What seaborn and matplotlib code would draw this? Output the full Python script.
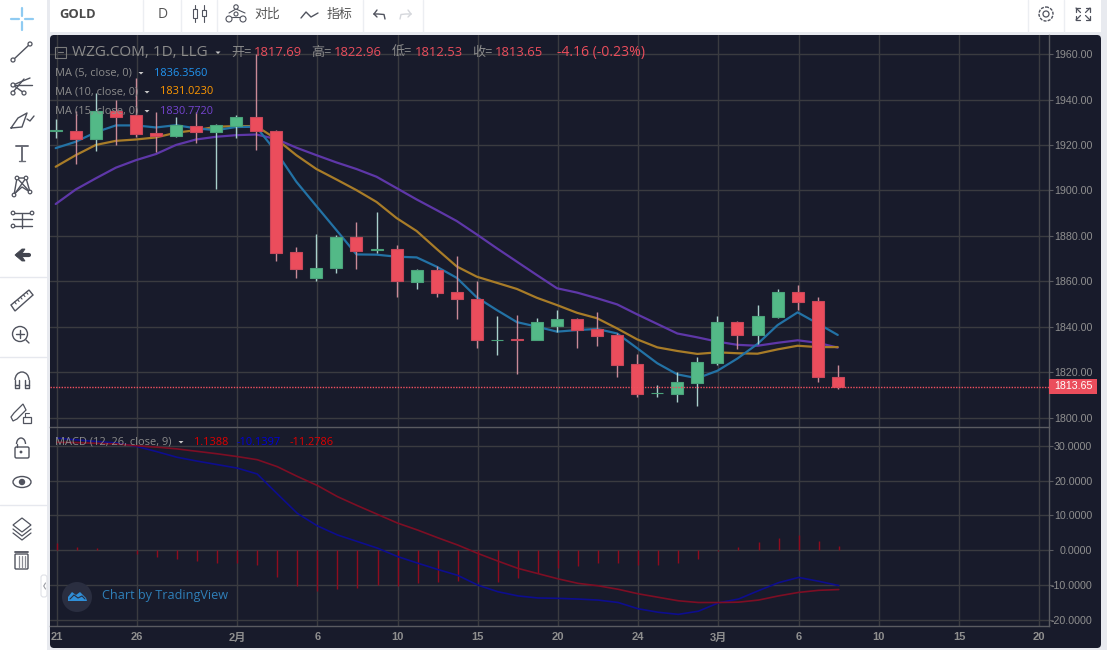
import numpy as np
import pandas as pd
import seaborn as sns
import matplotlib
matplotlib.use("Agg")
import matplotlib.pyplot as plt
from matplotlib.patches import FancyBboxPatch, Rectangle, Circle, Polygon, Arc, Ellipse

# ---------- data ----------
opens = [1926.3,1926.2,1922.7,1934.8,1933.2,1925.1,1923.9,1928.3,1925.5,1928.3,1932.1,1926.2,1873.0,1861.5,1865.7,1879.4,1873.6,1874.0,1859.5,1865.0,
         1855.1,1852.3,1834.0,1834.5,1834.3,1840.4,1843.2,1838.8,1836.3,1823.6,1810.6,1810.3,1815.2,1823.9,1842.0,1836.3,1844.2,1855.2,1851.2,1817.69]
highs = [1931.4,1935.0,1942.8,1940.0,1949.3,1934.6,1932.1,1934.6,1929.2,1933.2,1960.0,1926.5,1875.0,1881.0,1880.2,1886.2,1890.3,1876.0,1865.4,1866.8,
         1871.0,1860.2,1844.8,1845.2,1843.8,1847.3,1844.0,1846.3,1837.0,1828.0,1814.3,1820.0,1826.6,1844.5,1842.5,1849.5,1856.6,1858.3,1852.96,1822.96]
lows = [1923.2,1911.6,1917.3,1920.0,1923.5,1916.7,1923.7,1921.0,1900.7,1923.2,1917.6,1869.0,1861.5,1860.2,1863.8,1865.2,1872.3,1852.9,1856.6,1853.2,
        1843.5,1830.7,1827.6,1819.0,1834.3,1837.5,1830.6,1831.5,1817.7,1809.0,1809.0,1807.0,1805.0,1823.2,1830.0,1832.4,1844.0,1847.3,1815.8,1812.53]
closes = [1926.5,1922.7,1934.8,1932.4,1924.8,1923.9,1928.7,1925.5,1928.7,1932.1,1926.1,1872.5,1865.2,1866.0,1879.6,1873.4,1874.0,1860.1,1865.0,1855.0,
          1852.0,1834.0,1834.3,1834.3,1841.9,1843.2,1838.5,1836.0,1823.1,1810.3,1811.0,1815.5,1824.3,1842.0,1836.3,1844.5,1855.1,1850.7,1817.8,1813.65]
ma5 = [1918.6,1921.4,1925.6,1928.6,1928.6,1927.7,1928.7,1927.3,1926.5,1927.9,1928.0,1916.9,1903.8,1893.1,1882.5,1871.8,1871.7,1870.8,1870.5,1866.4,
       1861.5,1852.9,1847.3,1842.0,1840.0,1837.8,1838.5,1839.0,1837.0,1830.5,1823.9,1819.0,1817.3,1820.6,1826.0,1832.4,1840.7,1846.3,1841.4,1836.356]
ma10 = [1910.4,1915.5,1920.0,1921.8,1922.4,1923.3,1925.4,1926.5,1928.0,1928.3,1928.3,1922.6,1915.5,1909.4,1904.8,1900.1,1894.9,1887.8,1882.1,1874.2,
        1866.5,1862.0,1859.3,1856.6,1852.7,1849.5,1846.1,1843.7,1839.2,1834.4,1830.9,1829.3,1828.0,1828.7,1828.3,1828.1,1830.0,1831.6,1831.0,1831.023]
ma15 = [1894.0,1900.4,1905.3,1910.0,1913.3,1916.0,1920.0,1922.4,1923.6,1924.3,1924.6,1922.6,1918.8,1915.5,1912.3,1909.4,1906.0,1901.0,1896.0,1891.3,
        1886.5,1880.6,1874.5,1868.6,1862.7,1856.9,1855.0,1852.5,1849.8,1845.4,1841.2,1837.0,1835.3,1833.4,1832.0,1831.6,1832.9,1834.0,1832.9,1830.772]
dif = [32.2,31.7,31.2,30.8,29.8,28.3,26.7,25.6,24.6,23.6,21.9,16.2,10.6,7.0,4.4,2.5,0.6,-1.8,-3.7,-5.5,
       -7.2,-10.0,-11.9,-13.1,-13.7,-13.8,-14.0,-14.3,-15.0,-16.8,-17.8,-18.4,-17.5,-15.1,-14.0,-11.6,-9.3,-7.8,-8.9,-10.14]
dea = [31.0,30.9,30.7,30.5,30.0,29.6,29.1,28.4,27.7,26.9,26.0,24.0,21.2,18.6,15.4,12.8,10.3,7.8,5.8,3.6,
       1.5,-0.9,-3.1,-5.2,-6.7,-8.2,-9.5,-10.2,-11.2,-12.5,-13.5,-14.5,-15.0,-15.0,-14.9,-14.3,-13.1,-12.1,-11.5,-11.28]
hist = [2.0,1.0,0.7,0.1,-1.0,-2.0,-2.6,-3.1,-3.6,-3.7,-4.2,-7.6,-10.2,-11.7,-11.1,-10.8,-10.0,-10.2,-9.3,-9.0,
        -8.8,-9.0,-9.0,-8.1,-6.6,-5.2,-4.6,-3.8,-3.8,-4.3,-4.3,-3.8,-2.5,-0.2,1.0,2.3,3.6,4.4,2.6,1.14]
time_tick_bars = [0,4,9,13,17,21,25,29,33,37,41,45,49]
time_tick_labels = ["21","26","2月","6","10","15","20","24","3月","6","10","15","20"]
price_ticks = [1800,1820,1840,1860,1880,1900,1920,1940,1960]
macd_ticks = [-20,-10,0,10,20,30]
last_price = 1813.65

# ---------- style ----------
BG = "#181b2b"; GRID = "#3a3b40"; LABEL = "#8f8f8f"
UP = "#53b987"; DOWN = "#eb4d5c"; UPW = "#a9d0cc"; DOWNW = "#c98a97"
ICON = "#50535e"
FONT = ["Open Sans", "Noto Sans CJK SC", "DejaVu Sans"]
NUM = ["Liberation Sans", "Noto Sans CJK SC", "DejaVu Sans"]
sns.set_theme(style="dark")
plt.rcParams["font.family"] = FONT

W, H = 1107, 650
fig = plt.figure(figsize=(W / 100, H / 100), dpi=100, facecolor="#e8eaef")

def rect_px(x0, y0, x1, y1):
    return [x0 / W, 1 - y1 / H, (x1 - x0) / W, (y1 - y0) / H]

# background layer
bg = fig.add_axes([0, 0, 1, 1], zorder=0)
bg.set_xlim(0, W); bg.set_ylim(H, 0); bg.axis("off")
bg.add_patch(Rectangle((0, 0), 46.5, H, fc="white", ec="none"))
bg.add_patch(Rectangle((50, 0), 1051, 32, fc="white", ec="none"))
for x in [143, 181, 217, 363, 423, 1028, 1064]:
    bg.plot([x, x], [0, 32], color="#eceef2", lw=1)
bg.add_patch(FancyBboxPatch((52, 37), 1047, 609, boxstyle="round,pad=2,rounding_size=4", fc=BG, ec="none"))
for y in [277, 357, 505]:
    bg.plot([0, 46], [y, y], color="#e6e8ee", lw=1)

# axes
x0_ax, x1_ax = 50, 1049.3
ax = fig.add_axes(rect_px(x0_ax, 35, x1_ax, 427.3), zorder=2, facecolor="none")
mx = fig.add_axes(rect_px(x0_ax, 428, x1_ax, 625.5), zorder=2, facecolor="none", sharex=ax)

bars = np.arange(len(closes))
df = pd.DataFrame(dict(bar=bars, ma5=ma5, ma10=ma10, ma15=ma15, dif=dif, dea=dea, hist=hist,
                       open=opens, high=highs, low=lows, close=closes))
df["slot"] = df["bar"] - 0.05   # candles sit a pixel left of the grid lines
for col, c in [("ma15", "#5e37a8"), ("ma10", "#a87c28"), ("ma5", "#2372a5")]:
    sns.lineplot(data=df, x="slot", y=col, ax=ax, color=c, lw=1.6, estimator=None, legend=False, zorder=2)

up = df["close"] >= df["open"]
ax.vlines(df["slot"], df["low"], df["high"], colors=np.where(up, UPW, DOWNW).tolist(), lw=1.0, zorder=3)
bottom = df[["open", "close"]].min(axis=1)
height = (df["close"] - df["open"]).abs()
ax.bar(df["slot"], height, bottom=bottom, width=0.6, color=np.where(up, UP, DOWN).tolist(),
       edgecolor=np.where(up, "#4aa27a", "#c9475a").tolist(), linewidth=0.8, zorder=4)
ax.axhline(last_price, color="#f0505f", ls=(0, (1, 1)), lw=1.0, zorder=5)

mx.vlines(df["bar"], 0, df["hist"], colors="#8f0c1e", lw=1.0, zorder=2)
sns.lineplot(data=df, x="bar", y="dif", ax=mx, color="#0d0d8e", lw=1.2, estimator=None, legend=False, zorder=3)
sns.lineplot(data=df, x="bar", y="dea", ax=mx, color="#7d0e24", lw=1.2, estimator=None, legend=False, zorder=4)

ax.set_xlim(-0.334, 49.5)
ax.set_ylim(1795.7, 1968.4)
mx.set_ylim(-21.6, 35.1)

for a in (ax, mx):
    a.set_xlabel(""); a.set_ylabel("")
    a.set_xticks(time_tick_bars)
    a.grid(True, color=GRID, lw=1.0, zorder=0)
    a.set_axisbelow(True)
    a.yaxis.tick_right()
    for s in ("left", "top"):
        a.spines[s].set_visible(False)
    a.spines["right"].set_color("#5a5b61"); a.spines["right"].set_linewidth(1)
    a.spines["bottom"].set_color("#5a5b61"); a.spines["bottom"].set_linewidth(1)
    a.tick_params(axis="y", length=3, width=0.8, color="#5a5b61", labelcolor=LABEL, labelsize=7.7, pad=28)

ax.set_yticks(price_ticks)
ax.set_yticklabels([f"{v:.2f}" for v in price_ticks], family=NUM, ha="right")
ax.tick_params(axis="x", length=0, labelbottom=False)
mx.set_yticks(macd_ticks)
mx.set_yticklabels([f"{v:.4f}" for v in macd_ticks], family=NUM, ha="right")
mx.set_xticklabels(time_tick_labels, family=NUM, fontweight="bold")
mx.tick_params(axis="x", length=0, labelcolor=LABEL, labelsize=8.0, pad=5)

# overlay: texts, price tag, toolbar and icons
ov = fig.add_axes([0, 0, 1, 1], zorder=5, facecolor="none")
ov.set_xlim(0, W); ov.set_ylim(H, 0); ov.axis("off")

def T(x, y, s, c=LABEL, size=8, **kw):
    kw.setdefault("family", FONT)
    ov.text(x, y, s, color=c, fontsize=size, va="center", ha=kw.pop("ha", "left"), **kw)

def L(xs, ys, c=ICON, lw=1.0, **kw):
    ov.plot(xs, ys, color=c, lw=lw, solid_capstyle="round", **kw)

def caret(x, y, c="#c8c8c8"):
    ov.add_patch(Polygon([[x - 2.5, y - 1], [x + 2.5, y - 1], [x, y + 1.5]], fc=c, ec="none"))

# header
ov.add_patch(Rectangle((55, 47), 10.5, 10.5, fc="none", ec="#7b7b7b", lw=0.8))
L([57.5, 63], [52.3, 52.3], "#7b7b7b", 0.8)
T(72, 52.5, "WZG.COM, 1D, LLG", "#8b8b8b", 11)
caret(218, 52.5)
for x, lab, xv, val in [(231, "开=", 254, "1817.69"), (311, "高=", 334, "1822.96"),
                        (392, "低=", 415, "1812.53"), (472, "收=", 495, "1813.65")]:
    T(x, 52.5, lab, "#8b8b8b", 9.4)
    T(xv, 52.5, val, DOWN, 9.4)
T(557, 52.5, "-4.16 (-0.23%)", DOWN, 10.1)

for y, lab, cx, xv, val, col in [(73, "MA (5, close, 0)", 141, 154, "1836.3560", "#2196f3"),
                                 (92, "MA (10, close, 0)", 147, 160, "1831.0230", "#ff9800"),
                                 (111, "MA (15, close, 0)", 147, 160, "1830.7720", "#7544d0")]:
    T(55, y, lab, "#8b8b8b", 7.9)
    caret(cx, y)
    T(xv, y, val, col, 7.9)

T(55, 442, "MACD (12, 26, close, 9)", "#8b8b8b", 7.9)
caret(181, 442)
T(194, 442.5, "1.1388", "#e00000", 7.9)
T(237, 442.5, "-10.1397", "#0000d8", 7.9)
T(290, 442.5, "-11.2786", "#e00000", 7.9)

# price tag
ov.add_patch(Rectangle((1049, 378.5), 48, 15.5, fc=DOWN, ec="none"))
T(1073, 386, "1813.65", "white", 7.7, ha="center", family=NUM)

# watermark
ov.add_patch(Circle((77, 597), 15, fc="#2a2e40", ec="none"))
ov.add_patch(Polygon([[68, 601], [68, 597], [72, 592], [76, 595], [80, 592], [86, 598], [87, 601]], fc="#2f8fd8", ec="none"))
L([70, 74, 78, 82, 85], [599, 595, 598, 596, 599], "#2a2e40", 0.8)
T(102, 595, "Chart by TradingView", "#2f7fb8", 9.1)

# toolbar
T(59, 14, "GOLD", "#4a4a4a", 9.4, fontweight="bold")
T(163, 14, "D", "#555555", 10, ha="center")
T(254, 14.5, "对比", "#555555", 9.3)
T(327, 14.5, "指标", "#555555", 9.3)
# candle icon
for x, y0, y1 in [(195, 9, 18), (204, 10, 16)]:
    L([x, x], [5, 22], ICON, 0.8)
    ov.add_patch(Rectangle((x - 2.2, y0), 4.4, y1 - y0, fc="white", ec=ICON, lw=0.8, zorder=3))
# compare icon
L([229, 236, 245], [13, 9, 13], ICON, 0.8)
L([232, 242], [17, 17], ICON, 0.8)
ov.add_patch(Circle((236, 7), 2.2, fc="white", ec=ICON, lw=0.8, zorder=3))
ov.add_patch(Circle((229, 19), 3, fc="white", ec=ICON, lw=0.8, zorder=3))
ov.add_patch(Circle((243, 19), 3, fc="white", ec=ICON, lw=0.8, zorder=3))
ov.add_patch(Circle((236, 14), 2, fc="white", ec=ICON, lw=0.8, zorder=3))
# wave icon
L([301, 306, 311, 318], [18, 12, 17, 13], ICON, 1.0)
# undo / redo
L([374, 378, 384, 385], [14, 14, 14.5, 19], ICON, 1.0)
L([374, 377], [14, 10], ICON, 1.0); L([374, 377], [14, 17], ICON, 1.0)
L([411, 406, 401, 400], [14, 14, 14.5, 19], "#d5d7dc", 1.0)
L([411, 408], [14, 10], "#d5d7dc", 1.0); L([411, 408], [14, 17], "#d5d7dc", 1.0)
# gear
ov.add_patch(Circle((1046, 14), 7, fc="none", ec=ICON, lw=1.0, ls=(0, (2.2, 0.9))))
ov.add_patch(Circle((1046, 14), 3, fc="none", ec=ICON, lw=0.9))
# fullscreen
for sx, sy in [(-1, -1), (1, -1), (-1, 1), (1, 1)]:
    cx, cy = 1083 + sx * 7, 14 + sy * 6
    L([cx, cx - sx * 4.5], [cy, cy - sy * 4.5], ICON, 0.9)
    L([cx, cx - sx * 4], [cy, cy], ICON, 0.9)
    L([cx, cx], [cy, cy - sy * 4], ICON, 0.9)

# sidebar icons
cross = "#8fcbf2"
L([11, 19], [19, 19], cross, 1.6); L([25, 33], [19, 19], cross, 1.6)
L([22, 22], [8, 16], cross, 1.6); L([22, 22], [22, 30], cross, 1.6)
def dot(x, y, r=2):
    ov.add_patch(Circle((x, y), r, fc="white", ec=ICON, lw=0.9, zorder=4))
L([13, 30], [60, 44]); dot(13, 60); dot(30, 44)
L([13, 24], [92, 79]); L([13, 30], [85, 78]); L([15, 32], [85, 85]); L([13, 24], [85, 93]); dot(13, 85); dot(13, 93); dot(24, 93)
L([11, 18, 27, 22, 11], [128, 118, 113, 127, 128]); L([27, 30, 34], [119, 121, 116])
L([16, 28], [146, 146], "#6a6d77", 1.4); L([22, 22], [146, 161], "#6a6d77", 1.4); L([19, 25], [161, 161], "#6a6d77", 1)
px = [14, 17, 26, 30, 22, 13]; py = [195, 178, 178, 192, 187, 195]
L(px, py); L([14, 26], [195, 178]); L([17, 30], [178, 192])
for a_, b_ in zip(px[:4], py[:4]):
    dot(a_, b_, 1.8)
L([13, 32], [213, 213]); L([13, 32], [226, 226]); L([13, 32], [219, 219]); L([22, 22], [214, 228])
dot(13, 213, 1.8); dot(32, 213, 1.8); dot(13, 226, 1.8)
L([18, 29], [255, 255], "#42454f", 3.0)
ov.add_patch(Polygon([[15, 255], [22, 249], [25, 249], [21, 255], [25, 261], [22, 261]], fc="#42454f", ec="#42454f", lw=0.6))
ov.add_patch(Polygon([[11, 305], [29, 290], [33, 295], [15, 311]], fc="none", ec=ICON, lw=1.0))
for t in np.linspace(0.2, 0.85, 5):
    x_ = 11 + 18 * t; y_ = 305 - 15 * t
    L([x_, x_ + 1.6], [y_, y_ + 1.9], ICON, 0.8)
ov.add_patch(Circle((20, 334), 7.5, fc="none", ec=ICON, lw=1.0))
L([16, 24], [334, 334]); L([20, 20], [330, 338]); L([26, 29], [340, 343])
ov.add_patch(Arc((22, 380), 14, 16, theta1=180, theta2=360, ec=ICON, lw=1.0))
L([15, 15, 19, 19], [380, 388, 388, 380]); L([29, 29, 25, 25], [380, 388, 388, 380]); L([15, 19], [385, 385]); L([25, 29], [385, 385])
ov.add_patch(Polygon([[11, 417], [13, 421], [17, 419], [26, 410], [23, 404], [14, 413]], fc="none", ec=ICON, lw=0.9))
ov.add_patch(Rectangle((23, 417), 8, 6, fc="none", ec=ICON, lw=0.9)); L([25, 25, 29], [417, 413, 413], ICON, 0.8)
ov.add_patch(FancyBboxPatch((15, 447), 14, 11, boxstyle="round,pad=0,rounding_size=1.5", fc="none", ec=ICON, lw=1.0))
ov.add_patch(Arc((21, 444), 9, 12, theta1=180, theta2=360, ec=ICON, lw=1.0)); L([16.5, 16.5], [444, 447]); dot(21, 452, 0.8)
ov.add_patch(Ellipse((22, 482), 18, 11, fc="none", ec=ICON, lw=1.0)); ov.add_patch(Circle((22, 482), 3.2, fc=ICON, ec="none"))
ov.add_patch(Polygon([[13, 525], [22, 518], [31, 525], [22, 532]], fc="white", ec=ICON, lw=0.9, zorder=3))
L([13, 22, 31], [529, 536, 529], ICON, 0.9); L([13, 22, 31], [533, 540, 533], ICON, 0.9)
ov.add_patch(FancyBboxPatch((15, 554), 13, 15, boxstyle="round,pad=0,rounding_size=1", fc="none", ec=ICON, lw=1.0))
L([15, 28], [552, 552], ICON, 1.3)
for x in [18.5, 21.5, 24.5]:
    L([x, x], [556, 567], "#8a8c94", 0.9)
# collapse tab
ov.add_patch(FancyBboxPatch((41, 575), 6, 22, boxstyle="round,pad=0,rounding_size=2.5", fc="white", ec="#dfe1e6", lw=0.8))
L([45.5, 43.7, 45.5], [583, 586, 589], "#9a9ca3", 0.8)

fig.savefig("out.png", dpi=100, facecolor=fig.get_facecolor())
